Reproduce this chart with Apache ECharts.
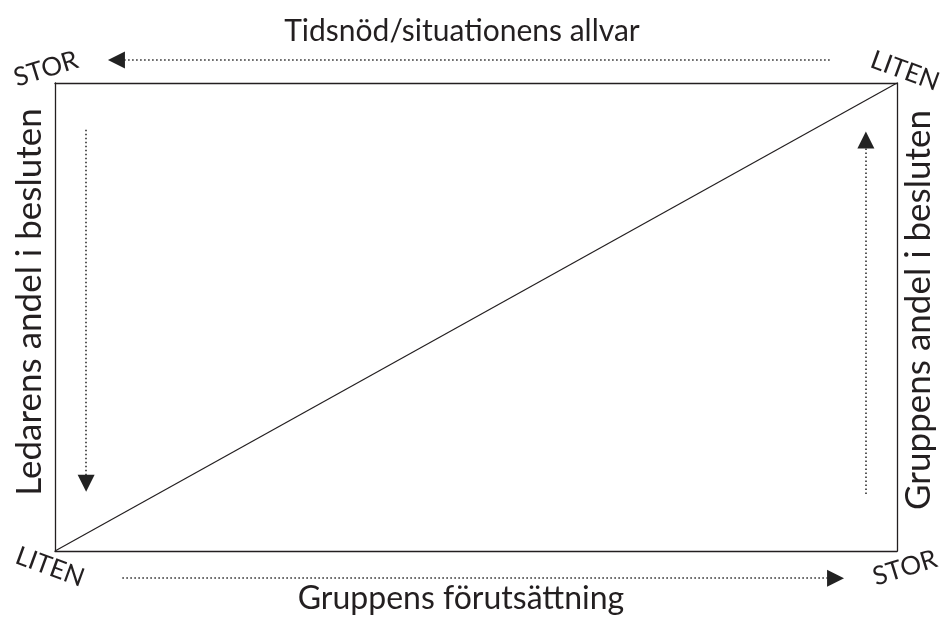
<!DOCTYPE html>
<html>
<head>
<meta charset="utf-8">
<script src="https://cdn.jsdelivr.net/npm/echarts@6/dist/echarts.min.js"></script>
<style>
  html, body { margin: 0; padding: 0; background: #fff; }
  #chart { width: 940px; height: 619px; }
</style>
</head>
<body>
<div id="chart"></div>
<script>
// diagonal: from the lower left corner to the upper right corner
const diagonal = [[0, 0], [1, 1]]

// dotted arrows, [from, to] in the frame's own units (0..1)
const arrowTop = [[0.92, 1.049], [0.073, 1.049]]
const arrowBottom = [[0.08, -0.058], [0.927, -0.058]]
const arrowLeft = [[0.037, 0.9], [0.037, 0.145]]
const arrowRight = [[0.963, 0.122], [0.963, 0.878]]

const titleTop = 'Tidsnöd/situationens allvar'
const titleBottom = 'Gruppens förutsättning'
const titleLeft = 'Ledarens andel i besluten'
const titleRight = 'Gruppens andel i besluten'
const cornerLabels = ['STOR', 'LITEN', 'LITEN', 'STOR'] // tl, tr, bl, br

const ink = '#231f20'
const font = 'Lato, "Open Sans", sans-serif'

const chart = echarts.init(document.getElementById('chart'))

const hiddenAxis = position => ({
  type: 'value',
  position,
  min: 0,
  max: 1,
  axisLine: { show: true, onZero: false, lineStyle: { color: ink, width: 1.3 } },
  axisTick: { show: false },
  axisLabel: { show: false },
  splitLine: { show: false },
})

const textEl = (text, x, y, size, rotation) => ({
  type: 'text',
  x,
  y,
  rotation: rotation || 0,
  style: {
    text,
    fill: ink,
    font: `${size}px ${font}`,
    align: 'center',
    verticalAlign: 'middle',
  },
})

const option = {
  animation: false,
  backgroundColor: '#fff',
  grid: { left: 55, right: 43, top: 83, bottom: 68 },
  xAxis: [hiddenAxis('bottom'), hiddenAxis('top')],
  yAxis: [hiddenAxis('left'), hiddenAxis('right')],
  series: [
    {
      type: 'line',
      data: diagonal,
      symbol: 'none',
      lineStyle: { color: ink, width: 1.2 },
    },
    {
      type: 'lines',
      coordinateSystem: 'cartesian2d',
      clip: false,
      symbol: ['none', 'triangle'],
      symbolSize: 17,
      lineStyle: { color: '#222', width: 1.5, type: [1.5, 2.5], opacity: 1 },
      itemStyle: { color: ink },
      data: [arrowTop, arrowBottom, arrowLeft, arrowRight].map(c => ({ coords: c })),
    },
  ],
  graphic: [
    textEl(titleTop, 462, 31, 30),
    textEl(titleBottom, 461, 599, 32),
    textEl(titleLeft, 30, 302, 35, Math.PI / 2),
    textEl(titleRight, 919, 310, 35, Math.PI / 2),
    textEl(cornerLabels[0], 46, 69, 26, 0.3),
    textEl(cornerLabels[1], 905, 71, 26, -0.35),
    textEl(cornerLabels[2], 50, 567, 26, -0.35),
    textEl(cornerLabels[3], 905, 568, 26, 0.3),
  ],
}

chart.setOption(option)
</script>
</body>
</html>
